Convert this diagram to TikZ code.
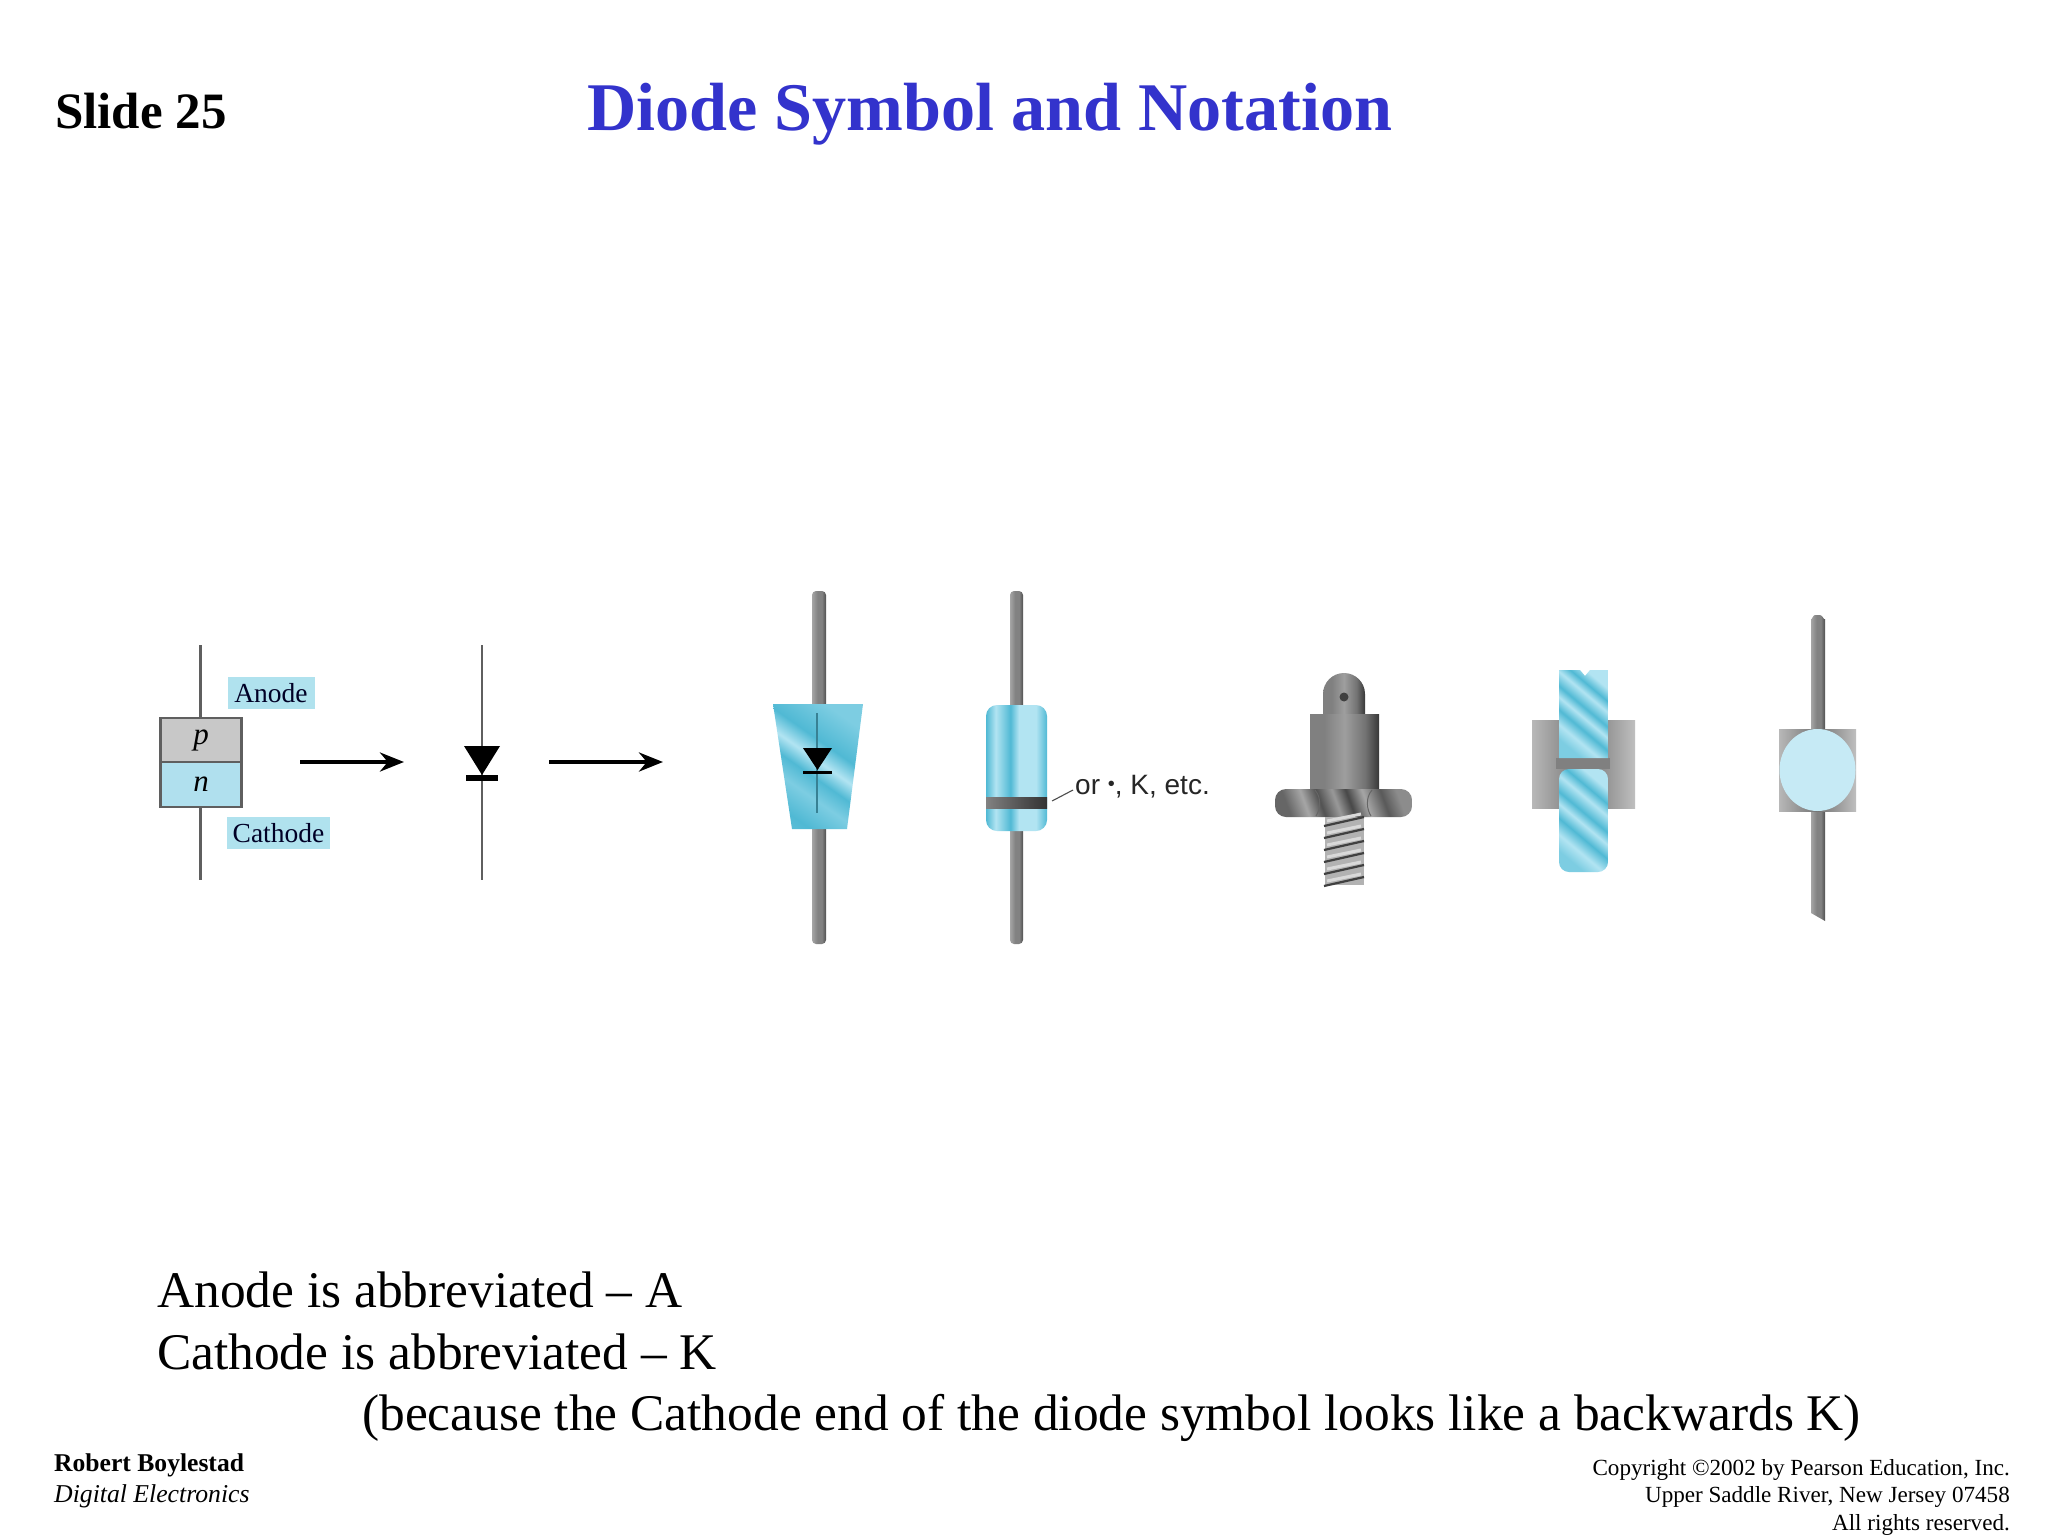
\documentclass[tikz,border=0pt]{standalone}
\usepackage{fontspec}
\setmainfont{Liberation Serif}
\newfontfamily\sansf{Liberation Sans}
\usetikzlibrary{arrows.meta,calc}
\definecolor{titleblue}{RGB}{51,51,204}
\definecolor{labelblue}{RGB}{176,226,238}
\definecolor{nblue}{RGB}{176,224,238}
\definecolor{pgray}{RGB}{200,200,200}
\definecolor{wiregray}{RGB}{95,95,95}
\definecolor{pale}{RGB}{198,234,245}
\definecolor{blight}{RGB}{178,228,242}
\definecolor{bmid}{RGB}{125,205,226}
\definecolor{bdeep}{RGB}{80,185,212}
\definecolor{gtop}{RGB}{165,165,165}
\definecolor{gmid}{RGB}{130,130,130}
\definecolor{gdark}{RGB}{80,80,80}
\pgfdeclarehorizontalshading{leadshade}{100bp}{color(0bp)=(gtop); color(25bp)=(gtop); color(45bp)=(gmid); color(60bp)=(gmid); color(75bp)=(gdark); color(100bp)=(gdark)}
\pgfdeclarehorizontalshading{bandshade}{100bp}{color(0bp)=(gmid); color(25bp)=(gmid); color(55bp)=(gdark); color(75bp)=(black!80); color(100bp)=(black!80)}
\pgfdeclarehorizontalshading{bodyshade}{100bp}{color(0bp)=(bdeep); color(25bp)=(bdeep); color(33bp)=(blight); color(45bp)=(bdeep); color(52bp)=(blight); color(66bp)=(blight); color(75bp)=(bdeep); color(100bp)=(bdeep)}
\pgfdeclarehorizontalshading{streak}{100bp}{color(0bp)=(bmid); color(25bp)=(bmid); color(33bp)=(blight); color(41bp)=(bdeep); color(48bp)=(blight); color(54bp)=(bdeep); color(62bp)=(blight); color(68bp)=(bdeep); color(75bp)=(blight); color(100bp)=(blight)}
\pgfdeclarehorizontalshading{softstreak}{100bp}{color(0bp)=(bmid); color(25bp)=(bdeep); color(37bp)=(bmid); color(45bp)=(bdeep); color(52bp)=(blight); color(60bp)=(bdeep); color(75bp)=(bmid); color(100bp)=(bmid)}
\pgfdeclarehorizontalshading{metal}{100bp}{color(0bp)=(black!50); color(25bp)=(black!50); color(35bp)=(black!50); color(50bp)=(black!38); color(65bp)=(black!55); color(75bp)=(black!78); color(100bp)=(black!78)}
\pgfdeclarehorizontalshading{nutshade}{100bp}{color(0bp)=(black!60); color(25bp)=(black!60); color(33bp)=(black!35); color(40bp)=(black!68); color(47bp)=(black!40); color(53bp)=(black!72); color(60bp)=(black!35); color(68bp)=(black!65); color(75bp)=(black!45); color(100bp)=(black!45)}
\pgfdeclarehorizontalshading{plate}{100bp}{color(0bp)=(black!28); color(25bp)=(black!28); color(50bp)=(black!55); color(75bp)=(black!25); color(100bp)=(black!25)}
\tikzset{
  x=1pt,y=-1pt,
  slidetext/.style={inner sep=0pt,anchor=base west,text=black},
  rt/.style={inner sep=0pt,anchor=base east,font=\fontsize{23.1}{24}\selectfont},
  tag/.style={fill=labelblue,inner sep=0pt,font=\fontsize{27.5}{28}\selectfont,text=black!85!blue},
  wire/.style={draw=wiregray,line width=2.8pt},
  flow/.style={draw=black,line width=4pt,-{Stealth[length=24pt,width=19pt]}},
  leadw/.style={rounded corners=4pt,shading=leadshade},
}
\begin{document}
\begin{tikzpicture}
\useasboundingbox (0,0) rectangle (2048,1536);
\fill[white] (0,0) rectangle (2048,1536);
% titles
\node[slidetext,font=\fontsize{51}{51}\selectfont\bfseries] (slide) at (55,129) {Slide 25};
\node[slidetext,text=titleblue,font=\fontsize{68.2}{68}\selectfont\bfseries] (title) at (587,131) {Diode Symbol and Notation};
% pn block
\coordinate (w1a) at (200.5,645);
\coordinate (w1b) at (200.5,880);
\draw[wire] (w1a) -- (w1b);
\node[draw=wiregray,line width=2.6pt,fill=pgray,minimum width=81pt,minimum height=44pt,inner sep=0pt,font=\fontsize{31}{31}\selectfont\itshape] (pblock) at (201,740) {p};
\node[draw=wiregray,line width=2.6pt,fill=nblue,minimum width=81pt,minimum height=45pt,inner sep=0pt,font=\fontsize{31}{31}\selectfont\itshape] (nblock) at (201,784.5) {n};
\node[tag,minimum width=87pt,minimum height=32pt] (anode) at (271,693) {Anode};
\node[tag,minimum width=103pt,minimum height=32pt] (cathode) at (278.5,833) {Cathode};
% arrow 1
\coordinate (a1s) at (300,762);
\coordinate (a1e) at (404,762);
\draw[flow] (a1s) -- (a1e);
% diode symbol
\coordinate (w2a) at (482,645);
\coordinate (w2b) at (482,880);
\draw[wire] (w2a) -- (w2b);
\fill[black] (464,746) -- (500,746) -- (482,775) -- cycle;
\fill[black] (466,775) rectangle (498,781);
% arrow 2
\coordinate (a2s) at (549,762);
\coordinate (a2e) at (663,762);
\draw[flow] (a2s) -- (a2e);
% part 3
\shade[leadw] (812,591) rectangle (826,944);
\begin{scope}
\clip (773,704) -- (863,704) -- (847,829) -- (792,829) -- cycle;
\shade[shading=softstreak,shading angle=55] (773,704) rectangle (863,829);
\end{scope}
\draw[draw=bdeep!70!black,line width=1.2pt] (817,713) -- (817,813);
\fill[black] (803,748) -- (832,748) -- (817.5,770) -- cycle;
\fill[black] (803,771) rectangle (832,773.5);
% part 4
\shade[leadw] (1010,591) rectangle (1023,944);
\begin{scope}
\clip[rounded corners=11pt] (986,705) rectangle (1047,831);
\shade[shading=bodyshade] (986,705) rectangle (1047,831);
\shade[shading=bandshade] (986,797) rectangle (1047,808);
\end{scope}
\node[inner sep=0pt,anchor=base west,font=\sansf\fontsize{28}{28}\selectfont,text=black!85] (mark) at (1075,794) {or \raisebox{4pt}{\fontsize{20}{20}\selectfont\textbullet}, K, etc.};
\coordinate (mk) at (1052,801);
\coordinate (mt) at (1073,790);
\draw[black!70,line width=1.1pt] (mk) -- (mt);
% part 5: stud
\begin{scope}
\clip (1323,715) -- (1323,694) arc[start angle=180,end angle=360,radius=21] -- (1365,715) -- cycle;
\shade[shading=metal] (1323,673) rectangle (1365,715);
\end{scope}
\fill[black!75] (1344,697) circle (4.5);
\shade[shading=metal] (1310,714) rectangle (1379,791);
\begin{scope}
\clip[rounded corners=11pt] (1275,789) rectangle (1412,817);
\shade[shading=nutshade,shading angle=20] (1275,789) rectangle (1412,817);
\end{scope}
\draw[black!60,line width=1pt] (1315,790) .. controls (1322,798) and (1320,810) .. (1316,816);
\draw[black!60,line width=1pt] (1372,790) .. controls (1365,798) and (1367,810) .. (1371,816);
% thread
\fill[black!30] (1325,817) rectangle (1364,885);
\foreach \ty in {826,838,850,862,874,886}{
  \draw[black!75,line width=2.2pt] (1324,\ty) -- (1364,\ty-9);
  \draw[white!85!black,line width=3pt] (1327,\ty-5) -- (1361,\ty-12);
}
% part 6
\shade[shading=plate] (1532,720) rectangle (1635,808);
\fill[black!50] (1556,758) rectangle (1610,769);
\begin{scope}
\clip (1559,670) -- (1580,670) -- (1585,676) -- (1590,670) -- (1608,670) -- (1608,758) -- (1559,758) -- cycle;
\shade[shading=streak,shading angle=50] (1559,670) rectangle (1608,758);
\end{scope}
\begin{scope}
\clip[rounded corners=10pt] (1559,769) rectangle (1608,872);
\shade[shading=streak,shading angle=50] (1559,769) rectangle (1608,872);
\end{scope}
% part 7
\shade[shading=leadshade] (1811,619) to[out=-80,in=180] (1815,615) -- (1820,615) to[out=0,in=-100] (1825,619) -- (1825,921) -- (1811,913) -- cycle;
\shade[shading=plate] (1779,729) rectangle (1856,811);
\fill[pale] (1817.5,770) ellipse [x radius=38,y radius=41];
% bottom text
\node[slidetext,font=\fontsize{51.4}{51}\selectfont] (l1) at (157,1307) {Anode is abbreviated – A};
\node[slidetext,font=\fontsize{51.4}{51}\selectfont] (l2) at (157,1369) {Cathode is abbreviated – K};
\node[slidetext,font=\fontsize{51.4}{51}\selectfont] (l3) at (362,1430) {(because the Cathode end of the diode symbol looks like a backwards K)};
\node[slidetext,font=\fontsize{25.6}{26}\selectfont\bfseries] (author) at (54,1471) {Robert Boylestad};
\node[slidetext,font=\fontsize{25.7}{26}\selectfont\itshape] (book) at (54,1502) {Digital Electronics};
\node[rt] (c1) at (2010,1475) {Copyright ©2002 by Pearson Education, Inc.};
\node[rt] (c2) at (2010,1502) {Upper Saddle River, New Jersey 07458};
\node[rt] (c3) at (2010,1530) {All rights reserved.};
\end{tikzpicture}
\end{document}
